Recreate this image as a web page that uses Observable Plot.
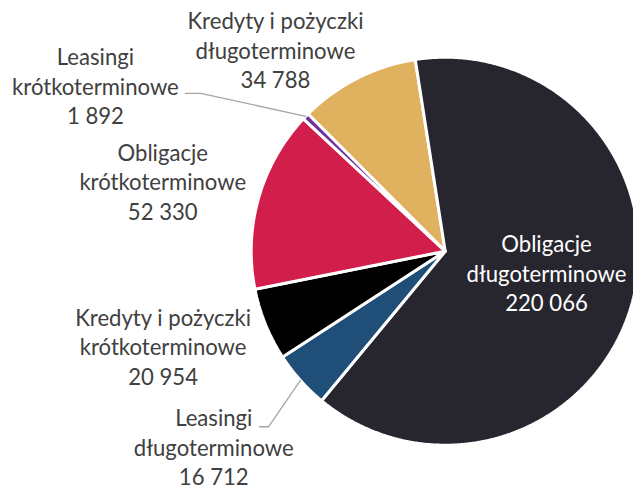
<!DOCTYPE html>
<html><head><meta charset="utf-8">
<script src="https://cdn.jsdelivr.net/npm/d3@7"></script>
<script src="https://cdn.jsdelivr.net/npm/@observablehq/plot@0.6"></script>
<style>body{margin:0;background:#fff;overflow:hidden}</style>
</head><body><div id="chart"></div>
<script>
// ---- data ----
const categories = [
  "Kredyty i pożyczki długoterminowe",
  "Obligacje długoterminowe",
  "Leasingi długoterminowe",
  "Kredyty i pożyczki krótkoterminowe",
  "Obligacje krótkoterminowe",
  "Leasingi krótkoterminowe"
];
const values = [34788, 220066, 16712, 20954, 52330, 1892];
const colors = ["#E0B15F", "#27262F", "#1F4E79", "#000000", "#D21E4A", "#7030A0"];

// ---- layout (pie centre/radius in px, label anchors in pie-radius units) ----
const W = 633, H = 493, CX = 444.7, CY = 250.7, R = 194;
const startDeg = -45;
const labelX = [-0.875, 0.522, -1.193, -1.454, -1.456, -1.803];
const labelY = [1.042, -0.110, -1.006, -0.487, 0.364, 0.854];
const labelFill = ["#404040", "#ffffff", "#404040", "#404040", "#404040", "#404040"];
// leader lines: [start, knee] in radius units, for slices that have them
const leaderSlices = [2, 5];
const leaderStartX = [-0.957, -1.339], leaderKneeX = [-0.911, -1.260];
const leaderStartY = [-0.905, 0.814], leaderKneeY = [-0.905, 0.814];

const fmt = d3.formatLocale({thousands: " ", grouping: [3], decimal: ","}).format(",d");

const start = startDeg * Math.PI / 180;
const arcs = d3.pie().sort(null).startAngle(start).endAngle(start + 2 * Math.PI)(values);

const slicePts = [];
arcs.forEach((a, i) => {
  const name = categories[i];
  slicePts.push({name, x: 0, y: 0});
  const n = Math.max(2, Math.ceil((a.endAngle - a.startAngle) / (0.4 * Math.PI / 180)));
  for (let k = 0; k <= n; k++) {
    const t = a.startAngle + (a.endAngle - a.startAngle) * k / n;
    slicePts.push({name, x: Math.sin(t), y: Math.cos(t)});
  }
  slicePts.push({name, x: 0, y: 0});
});

const labels = categories.map((c, i) => {
  const j = c.lastIndexOf(" ");
  return {text: c.slice(0, j) + "\n" + c.slice(j + 1) + "\n" + fmt(values[i]),
          x: labelX[i], y: labelY[i], fill: labelFill[i]};
});

const leaders = [];
leaderSlices.forEach((s, k) => {
  const a = arcs[s], m = (a.startAngle + a.endAngle) / 2;
  leaders.push({id: k, x: leaderStartX[k], y: leaderStartY[k]});
  leaders.push({id: k, x: leaderKneeX[k], y: leaderKneeY[k]});
  leaders.push({id: k, x: Math.sin(m) * 1.0, y: Math.cos(m) * 1.0});
});

const font = "Lato, 'Open Sans', sans-serif";
// fit font so that "długoterminowe" ≈ 160px wide like the reference
const ctx = document.createElement("canvas").getContext("2d");
ctx.font = "100px Lato";
const fs = Math.min(24, Math.max(16, 160 / ctx.measureText("długoterminowe").width * 100));

const chart = Plot.plot({
  width: W, height: H, margin: 0,
  x: {domain: [-CX / R, (W - CX) / R], range: [0, W], axis: null},
  y: {domain: [(CY - H) / R, CY / R], range: [H, 0], axis: null},
  color: {domain: categories, range: colors},
  marks: [
    Plot.line(slicePts, {x: "x", y: "y", z: "name", fill: "name", stroke: "white", strokeWidth: 3, strokeLinejoin: "miter", curve: "linear"}),
    Plot.line(leaders, {x: "x", y: "y", z: "id", stroke: "#A6A6A6", strokeWidth: 1.3, curve: "linear"}),
    Plot.text(labels, {x: "x", y: "y", text: "text", fill: "fill", fontFamily: font, fontSize: fs,
      lineHeight: 29.5 / fs, textAnchor: "middle", lineAnchor: "middle"})
  ]
});
document.getElementById("chart").appendChild(chart);
</script></body></html>
